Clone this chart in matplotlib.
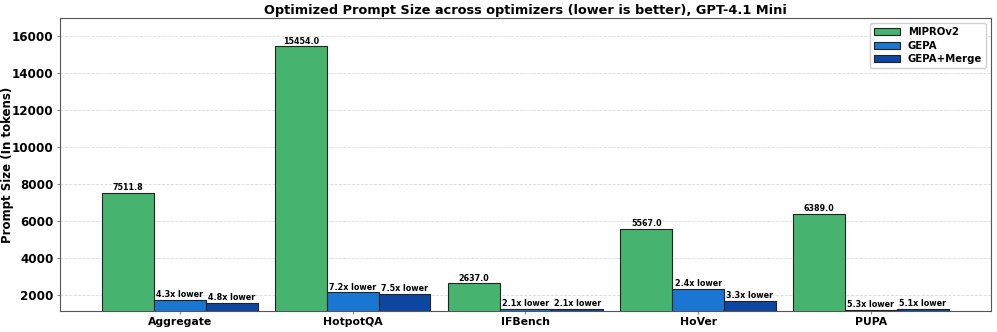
import matplotlib.pyplot as plt
import numpy as np

tasks = ["Aggregate", "HotpotQA", "IFBench", "HoVer", "PUPA"]
miprov2 = [7511.8, 15454.0, 2637.0, 5567.0, 6389.0]
gepa = [1747, 2146, 1256, 2320, 1205]
gepa_merge = [1565, 2060, 1256, 1687, 1253]

series = [("MIPROv2", miprov2, "#46b46e"),
          ("GEPA", gepa, "#1976d2"),
          ("GEPA+Merge", gepa_merge, "#0d47a1")]

plt.rcParams["font.weight"] = "bold"

fig, ax = plt.subplots(figsize=(9.97, 3.32), dpi=100)
fig.subplots_adjust(left=0.060, right=0.994, top=0.946, bottom=0.063)

x = np.arange(len(tasks))
width = 0.3

for i, (name, vals, color) in enumerate(series):
    pos = x + (i - 1) * width
    bars = ax.bar(pos, vals, width, label=name, color=color,
                  edgecolor="#222222", linewidth=0.8, zorder=3)
    for j, b in enumerate(bars):
        if i == 0:
            txt = f"{vals[j]:.1f}"
        else:
            txt = f"{miprov2[j] / vals[j]:.1f}x lower"
        ax.text(b.get_x() + b.get_width() / 2, b.get_height() + 40, txt,
                ha="center", va="bottom", fontsize=5.8, fontweight="bold")

ax.set_xticks(x)
ax.set_xticklabels(tasks, fontsize=7.8, fontweight="bold")
ax.tick_params(axis="y", labelsize=8.6)
ax.tick_params(axis="both", length=2.5, color="#888888", pad=2)
for lab in ax.get_yticklabels():
    lab.set_fontweight("bold")
ax.set_ylim(1130, 17000)
ax.set_ylabel("Prompt Size (In tokens)", fontsize=8.5, fontweight="bold")
ax.yaxis.set_label_coords(-0.049, 0.5)
ax.set_title("Optimized Prompt Size across optimizers (lower is better), GPT-4.1 Mini",
             fontsize=9.3, fontweight="bold", pad=3)
ax.yaxis.grid(True, linestyle="--", color="#dddddd", linewidth=0.6, zorder=0)
ax.set_axisbelow(True)
for s in ax.spines.values():
    s.set_color("#555555")
ax.legend(loc="upper right", prop={"size": 7.3, "weight": "bold"}, framealpha=0.9,
          labelspacing=0.35, handlelength=2.5)

plt.savefig("out.png", dpi=100)
